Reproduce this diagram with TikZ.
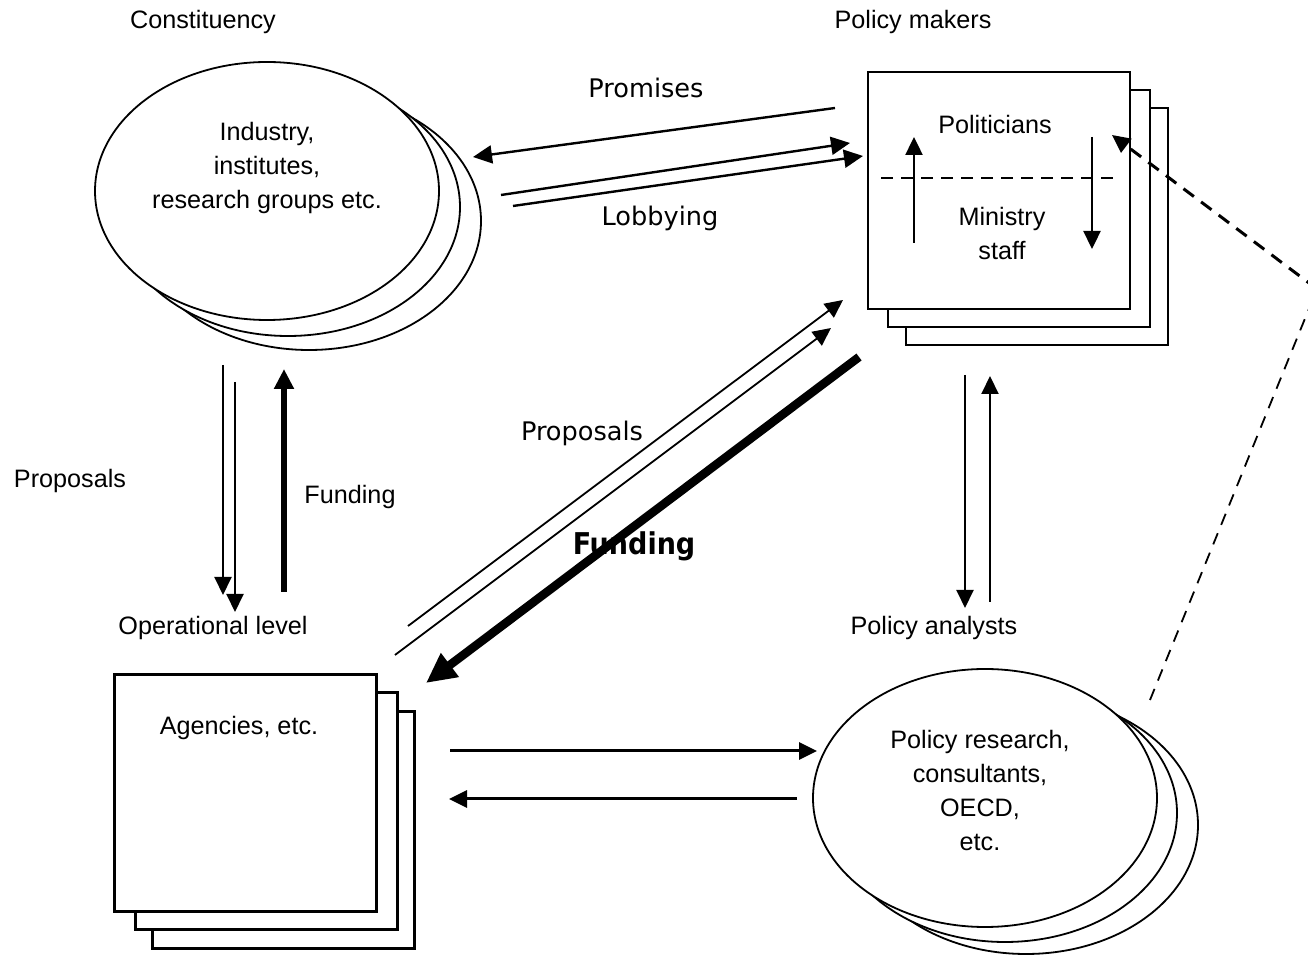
\documentclass[tikz,border=0pt]{standalone}
\usepackage{fontspec}
\setmainfont{Liberation Sans}
\newfontfamily\flowfont{DejaVu Sans}
\newfontfamily\flowboldfont{DejaVu Sans Condensed}
\usetikzlibrary{arrows.meta,shapes.geometric}

\begin{document}
\begin{tikzpicture}[
  x=0.5pt, y=-0.5pt,
  font=\fontsize{12.6}{17}\selectfont,
  sheet/.style={draw, line width=1.2pt, fill=white, minimum width=131pt, minimum height=118.5pt, inner sep=0pt},
  cloud/.style={draw, ellipse, line width=0.9pt, fill=white, minimum width=172pt, minimum height=129pt, inner sep=0pt},
  txt/.style={align=center, inner sep=0pt},
  flow/.style={font=\flowfont\fontsize{12.8}{14}\selectfont, inner sep=0pt},
  arr/.style={-{Triangle[length=9pt, width=8.5pt]}, line width=1pt},
  fatarr/.style={-{Triangle[length=10pt, width=9.5pt]}, line width=3pt},
  hugearr/.style={-{Triangle[length=15pt, width=14pt]}, line width=4.3pt},
  hint/.style={line width=1.5pt, dash pattern=on 6.5pt off 4.5pt}
]
\useasboundingbox (0,0) rectangle (1308,956);

% constituency
\node[cloud] (con3) at (309,221) {};
\node[cloud] (con2) at (288,207) {};
\node[cloud] (con) at (267,191) {};
\node[txt] (conTxt) at (267,168) {Industry,\\ institutes,\\ research groups etc.};
\node[txt] (conLab) at (203,22) {Constituency};

% policy makers
\node[sheet] (pm3) at (1037,226.5) {};
\node[sheet] (pm2) at (1019,208.5) {};
\node[sheet] (pm) at (999,190.5) {};
\node[txt] (pol) at (995,125) {Politicians};
\node[txt] (min) at (1002,233) {Ministry\\ staff};
\node[txt] (pmLab) at (913,22) {Policy makers};
\draw[line width=0.8pt, dash pattern=on 6pt off 4pt] (881,178) -- (1117,178);
\draw[arr, line width=1.2pt] (914,243) -- (914,137);
\draw[arr, line width=1.2pt] (1092,137) -- (1092,249);

% operational level
\node[sheet] (ag3) at (283.5,830) {};
\node[sheet] (ag2) at (266.5,811) {};
\node[sheet] (ag) at (245.5,793) {};
\node[txt] (agTxt) at (239,728) {Agencies, etc.};
\node[txt] (agLab) at (213,628) {Operational level};

% policy analysts
\node[cloud] (pa3) at (1026,825) {};
\node[cloud] (pa2) at (1005,813) {};
\node[cloud] (pa) at (985,798) {};
\node[txt] (paTxt) at (980,790) {Policy research,\\ consultants,\\ OECD,\\ etc.};
\node[txt] (paLab) at (934,628) {Policy analysts};

% constituency <-> policy makers
\draw[arr, line width=1.2pt, -{Triangle[length=9.5pt, width=9pt]}] (835,108) -- (473,157);
\draw[arr, line width=1.2pt, -{Triangle[length=9.5pt, width=9pt]}] (501,195) -- (850,143);
\draw[arr, line width=1.2pt, -{Triangle[length=9.5pt, width=9pt]}] (513,206) -- (863,156);
\node[flow] (prom) at (646,88) {Promises};
\node[flow] (lob) at (660,218) {Lobbying};

% constituency <-> operational level
\draw[arr] (223,365) -- (223,595);
\draw[arr] (235,382) -- (235,612);
\draw[fatarr] (284,592) -- (284,369);
\node[txt] (propL) at (70,481) {Proposals};
\node[txt] (fundL) at (350,497) {Funding};

% operational level <-> policy makers
\draw[arr, line width=0.9pt] (408,626) -- (843,300);
\draw[arr, line width=0.9pt] (395,655) -- (831,328);
\draw[hugearr] (859,357) -- (426,683);
\node[flow] (propD) at (582,433) {Proposals};
\node[font=\flowboldfont\bfseries\fontsize{15}{17}\selectfont, inner sep=0pt] (fundD) at (634,546) {Funding};

% policy makers <-> policy analysts
\draw[arr] (965,375) -- (965,608);
\draw[arr] (990,602) -- (990,376);

% operational level <-> policy analysts
\draw[arr, line width=1.5pt] (450,751) -- (817,751);
\draw[arr, line width=1.5pt] (797,799) -- (449,799);

% analysts feed back to politicians
\coordinate (bend) at (1317,289);
\draw[line width=0.9pt, dash pattern=on 6pt off 4.5pt] (1150,700) -- (bend);
\draw[hint, -{Triangle[length=9pt, width=8.5pt]}] (bend) -- (1112,135);
\end{tikzpicture}
\end{document}
